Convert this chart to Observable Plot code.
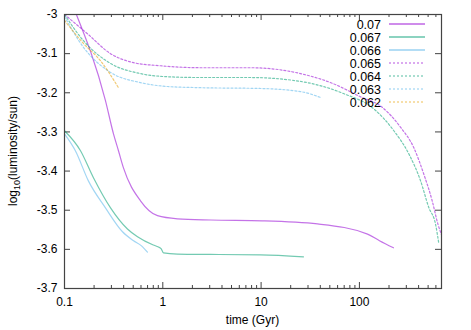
<!DOCTYPE html>
<html><head><meta charset="utf-8">
<script src="https://cdn.jsdelivr.net/npm/d3@7"></script>
<script src="https://cdn.jsdelivr.net/npm/@observablehq/plot@0.6"></script>
<style>body{margin:0;background:#fff;font-family:"Liberation Sans",Arial,sans-serif}</style>
</head><body><div id="chart"></div><script>
// Series labels (mass) and styles
const massLabels = ["0.07","0.067","0.066","0.065","0.064","0.063","0.062"];
const seriesColors = ["#9400d3","#009e73","#56b4e9","#9400d3","#009e73","#56b4e9","#e69f00"];
const seriesDashed = [false,false,false,true,true,true,true];

// time (Gyr) and log10(L/Lsun) per series
const t070 = [0.132,0.261,0.315,0.354,0.398,0.593,0.883,1.41,3.06,10.3,37.5,121,160,222];
const L070 = [-3.0,-3.220,-3.305,-3.348,-3.392,-3.476,-3.514,-3.522,-3.525,-3.527,-3.535,-3.561,-3.578,-3.596];
const t067 = [0.1,0.1455,0.197,0.294,0.437,0.553,0.80,0.904,0.96,1.016,1.41,3.06,9.87,27.0];
const L067 = [-3.297,-3.348,-3.417,-3.494,-3.548,-3.568,-3.589,-3.594,-3.598,-3.609,-3.612,-3.613,-3.614,-3.619];
const t066 = [0.1,0.129,0.175,0.261,0.389,0.504,0.607,0.698];
const L066 = [-3.305,-3.348,-3.425,-3.494,-3.555,-3.578,-3.591,-3.607];
const t065 = [0.1,0.171,0.294,0.504,0.948,2.42,7.8,25.2,54.6,100,170.6,262,357,452,550,628,680];
const L065 = [-3.0,-3.049,-3.100,-3.123,-3.131,-3.136,-3.136,-3.151,-3.177,-3.209,-3.237,-3.288,-3.340,-3.408,-3.476,-3.535,-3.561];
const t064 = [0.1,0.156,0.294,0.593,1.117,2.42,7.8,25.2,68.9,140,224,318,419,508,594,643];
const L064 = [-3.0,-3.067,-3.125,-3.151,-3.159,-3.161,-3.161,-3.171,-3.202,-3.241,-3.297,-3.356,-3.425,-3.493,-3.535,-3.586];
const t063 = [0.1,0.156,0.294,0.593,1.117,2.42,9.87,25.2,40.2];
const L063 = [-3.005,-3.084,-3.148,-3.174,-3.184,-3.187,-3.189,-3.197,-3.212];
const t062 = [0.1,0.156,0.232,0.354];
const L062 = [-3.015,-3.074,-3.118,-3.187];

const seriesT = [t070,t067,t066,t065,t064,t063,t062];
const seriesL = [L070,L067,L066,L065,L064,L063,L062];

// ticks
const xTicks = [0.1,1,10,100];
const xTickLabels = ["0.1","1","10","100"];
const yTicks = [-3,-3.1,-3.2,-3.3,-3.4,-3.5,-3.6,-3.7];
const yTickLabels = ["-3","-3.1","-3.2","-3.3","-3.4","-3.5","-3.6","-3.7"];
const xDomain = [0.1, 684];
const yDomain = [-3.7, -3.0];

const xMinor = [];
for (const dec of [0.1,1,10,100]) for (let k=2;k<=9;k++) { const v=dec*k; if (v<=xDomain[1]) xMinor.push(v); }

const W=471,H=330,mL=64,mR=30,mT=14,mB=42;
const pW=W-mL-mR, pH=H-mT-mB;

const rows = [];
seriesT.forEach((ts,i)=>ts.forEach((t,j)=>rows.push({s:i,t,L:seriesL[i][j]})));

const lineMarks = massLabels.map((m,i)=>Plot.line(rows.filter(r=>r.s===i),{
  x:"t", y:"L", stroke: seriesColors[i], strokeOpacity: 0.55, strokeWidth: 1.2,
  strokeDasharray: seriesDashed[i] ? "2,2" : null, curve:"monotone-x", clip:true
}));

const tickStroke = "#444";
const chart = Plot.plot({
  width:W, height:H, marginLeft:mL, marginRight:mR, marginTop:mT, marginBottom:mB,
  style:{fontFamily:"Liberation Sans, Arial, sans-serif", fontSize:"12px", color:"#000", background:"#fff"},
  x:{type:"log", domain:xDomain, label:null},
  y:{domain:yDomain, label:null},
  marks:[
    Plot.axisX(xTicks,{tickSize:0, tickPadding:9, tickFormat:d=>xTickLabels[xTicks.indexOf(d)], fontSize:12, label:null}),
    Plot.axisY(yTicks,{tickSize:0, tickPadding:7, tickFormat:d=>yTickLabels[yTicks.indexOf(d)], fontSize:12, label:null}),
    Plot.tickX(xTicks,{x:d=>d, insetTop:pH-6, stroke:tickStroke}),
    Plot.tickX(xTicks,{x:d=>d, insetBottom:pH-6, stroke:tickStroke}),
    Plot.tickX(xMinor,{x:d=>d, insetTop:pH-3, stroke:tickStroke}),
    Plot.tickX(xMinor,{x:d=>d, insetBottom:pH-3, stroke:tickStroke}),
    Plot.tickY(yTicks,{y:d=>d, insetRight:pW-6, stroke:tickStroke}),
    Plot.tickY(yTicks,{y:d=>d, insetLeft:pW-6, stroke:tickStroke}),
    ...lineMarks,
    Plot.frame({stroke:"#444", strokeWidth:1.2})
  ]
});
document.getElementById("chart").appendChild(chart);

const svg = d3.select(chart);
// x label
svg.append("text").attr("x", mL+pW/2).attr("y", 324).attr("text-anchor","middle")
  .attr("font-size",12).attr("fill","#000").text("time (Gyr)");
// y label with subscript
const yl = svg.append("text").attr("transform",`translate(17,${mT+pH/2}) rotate(-90)`)
  .attr("text-anchor","middle").attr("font-size",12).attr("fill","#000");
yl.append("tspan").text("log");
yl.append("tspan").attr("font-size",9).attr("dy",3).text("10");
yl.append("tspan").attr("dy",-3).text("(luminosity/sun)");
// legend
const lg = svg.append("g");
massLabels.forEach((m,i)=>{
  const y = 24 + 13*i;
  lg.append("text").attr("x",381).attr("y",y).attr("dy","0.36em").attr("text-anchor","end")
    .attr("font-size",12.5).attr("fill","#000").text(m);
  lg.append("line").attr("x1",389).attr("x2",425).attr("y1",y).attr("y2",y)
    .attr("stroke",seriesColors[i]).attr("stroke-opacity",0.45)
    .attr("stroke-width", seriesDashed[i]?1.3:2)
    .attr("stroke-dasharray", seriesDashed[i]?"2,2":null);
});
</script></body></html>
